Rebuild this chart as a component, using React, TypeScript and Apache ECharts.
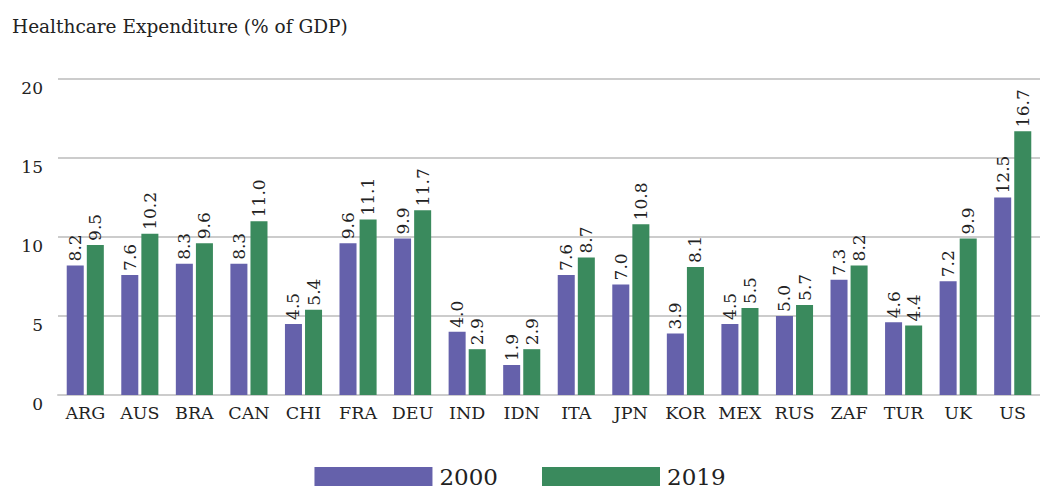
import React, { useEffect, useRef } from "react";
import * as echarts from "echarts";

const categories = ["ARG", "AUS", "BRA", "CAN", "CHI", "FRA", "DEU", "IND", "IDN", "ITA", "JPN", "KOR", "MEX", "RUS", "ZAF", "TUR", "UK", "US"];
const values2000 = [8.2, 7.6, 8.3, 8.3, 4.5, 9.6, 9.9, 4.0, 1.9, 7.6, 7.0, 3.9, 4.5, 5.0, 7.3, 4.6, 7.2, 12.5];
const values2019 = [9.5, 10.2, 9.6, 11.0, 5.4, 11.1, 11.7, 2.9, 2.9, 8.7, 10.8, 8.1, 5.5, 5.7, 8.2, 4.4, 9.9, 16.7];
const yTicks = [0, 5, 10, 15, 20];

const FONT = "DejaVu Serif";

export default function App() {
  const ref = useRef<HTMLDivElement>(null);
  useEffect(() => {
    if (!ref.current) return;
    const chart = echarts.init(ref.current, undefined, { renderer: "svg" });
    const label = {
      show: true,
      position: "top",
      rotate: 90,
      align: "left",
      verticalAlign: "middle",
      distance: 4,
      fontFamily: FONT,
      fontSize: 17,
      color: "#222",
      formatter: (p: any) => Number(p.value).toFixed(1),
    };
    chart.setOption({
      animation: false,
      backgroundColor: "#fff",
      title: {
        text: "Healthcare Expenditure (% of GDP)",
        left: 7,
        top: 12,
        textStyle: { fontFamily: FONT, fontSize: 18.5, fontWeight: "normal", color: "#222" },
      },
      grid: { left: 58, right: 0, top: 79, bottom: 94 },
      legend: {
        bottom: 1,
        left: "center",
        padding: 0,
        itemWidth: 118,
        itemHeight: 19,
        itemGap: 44,
        icon: "rect",
        textStyle: { fontFamily: FONT, fontSize: 23, color: "#222", padding: [4, 0, 0, 2] },
        data: ["2000", "2019"],
      },
      xAxis: {
        type: "category",
        data: categories,
        axisTick: { show: false },
        axisLine: { show: true, lineStyle: { color: "#ccc", width: 2 } },
        axisLabel: { interval: 0, fontFamily: FONT, fontSize: 17.5, color: "#222", margin: 9 },
      },
      yAxis: {
        type: "value",
        min: yTicks[0],
        max: yTicks[yTicks.length - 1],
        interval: 5,
        splitLine: { lineStyle: { color: "#ccc", width: 2 } },
        axisLine: { show: false },
        axisTick: { show: false },
        axisLabel: { fontFamily: FONT, fontSize: 17, color: "#222", margin: 15, verticalAlign: "top" },
      },
      series: [
        {
          name: "2000",
          type: "bar",
          data: values2000,
          itemStyle: { color: "#6561ab" },
          barGap: "18%",
          barCategoryGap: "32%",
          label,
        },
        {
          name: "2019",
          type: "bar",
          data: values2019,
          itemStyle: { color: "#3a8a5d" },
          barGap: "18%",
          barCategoryGap: "32%",
          label,
        },
      ],
    });
    return () => chart.dispose();
  }, []);
  return <div ref={ref} style={{ position: "fixed", left: 0, top: 0, width: 1040, height: 489 }} />;
}
